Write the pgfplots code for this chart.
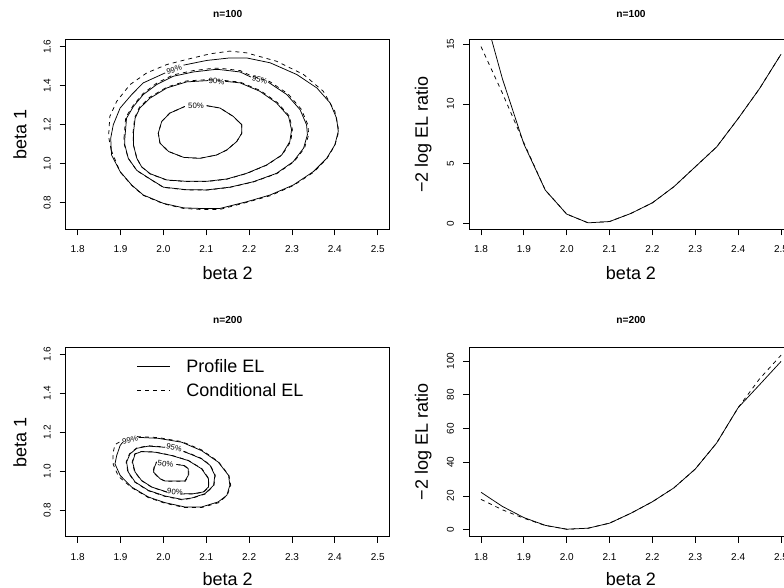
\documentclass[border=0pt]{standalone}
\usepackage{fontspec}
\setmainfont{Liberation Sans}
\usepackage{pgfplots}
\pgfplotsset{compat=1.18}
\tikzset{clab/.style={font=\fontsize{7.8}{8}\selectfont, inner sep=0pt}}
\pgfplotsset{
  Rax/.style={
    scale only axis, width=324pt, height=189.5pt, anchor=south west,
    axis line style={line width=0.75pt, black},
    every tick/.style={line width=0.75pt, black},
    tick align=outside, major tick length=6pt,
    xtick pos=bottom, ytick pos=left,
    xmin=1.772, xmax=2.528,
    xtick={1.8,1.9,2.0,2.1,2.2,2.3,2.4,2.5},
    xticklabels={1.8,1.9,2.0,2.1,2.2,2.3,2.4,2.5},
    /pgf/number format/assume math mode=true,
    tick label style={font=\fontsize{10}{11}\selectfont, inner sep=0pt},
    xticklabel style={anchor=north, yshift=-10.3pt},
    yticklabel style={xshift=-8.8pt, rotate=90, anchor=south},
    label style={font=\fontsize{18}{21}\selectfont, inner sep=0pt},
    every axis title shift=0pt,
    title style={font=\fontsize{10.2}{11}\selectfont\bfseries, anchor=center, inner sep=0pt},
    ylabel style={at={(axis description cs:-0.141,0.5)}, anchor=center},
    clip=true,
  },
  toprow/.style={
    xlabel style={at={(axis description cs:0.5,-0.2322)}, anchor=center},
    title style={at={(axis description cs:0.5,1.1346)}},
  },
  botrow/.style={
    xlabel style={at={(axis description cs:0.5,-0.2216)}, anchor=center},
    title style={at={(axis description cs:0.5,1.1425)}},
  },
  contourax/.style={ymin=0.664, ymax=1.636, ytick={0.8,1.0,1.2,1.4,1.6},
    yticklabels={0.8,1.0,1.2,1.4,1.6}, xlabel={beta 2}, ylabel={beta 1}},
  sol/.style={black, line width=0.75pt, no markers},
  das/.style={black, line width=0.75pt, no markers, dash pattern=on 4pt off 4pt},
}
\begin{document}
\begin{tikzpicture}
\path[use as bounding box] (0pt,0pt) rectangle (784pt,588pt);

% ---------------- top left: contours n=100
\begin{axis}[Rax, toprow, contourax, at={(65.7pt,358.7pt)}, title={n=100}]
\addplot[sol] coordinates {(2.047,1.506) (2.101,1.530) (2.155,1.543) (2.194,1.543) (2.249,1.518) (2.311,1.458) (2.358,1.389) (2.389,1.312) (2.404,1.234) (2.408,1.166) (2.400,1.097) (2.381,1.028) (2.350,0.960) (2.303,0.891) (2.249,0.840) (2.194,0.805) (2.132,0.771) (2.085,0.771) (2.047,0.774) (2.000,0.797) (1.953,0.840) (1.926,0.891) (1.899,0.960) (1.879,1.045) (1.877,1.131) (1.883,1.200) (1.899,1.286) (1.926,1.355) (1.953,1.415) (2.004,1.466)};
\addplot[sol] coordinates {(2.245,1.418) (2.288,1.355) (2.319,1.277) (2.334,1.200) (2.336,1.149) (2.327,1.080) (2.303,1.011) (2.264,0.951) (2.210,0.908) (2.155,0.880) (2.101,0.866) (2.054,0.867) (2.000,0.880) (1.969,0.922) (1.938,0.966) (1.918,1.028) (1.910,1.097) (1.910,1.131) (1.914,1.234) (1.930,1.294) (1.953,1.355) (1.984,1.406) (2.023,1.449) (2.070,1.471) (2.117,1.483) (2.132,1.483) (2.179,1.471) (2.204,1.445)};
\addplot[sol] coordinates {(2.144,1.423) (2.179,1.415) (2.225,1.372) (2.264,1.312) (2.292,1.243) (2.299,1.174) (2.295,1.114) (2.276,1.045) (2.241,0.994) (2.194,0.951) (2.148,0.922) (2.101,0.910) (2.054,0.910) (2.008,0.917) (1.969,0.949) (1.949,0.985) (1.938,1.028) (1.930,1.097) (1.930,1.157) (1.934,1.234) (1.945,1.286) (1.969,1.337) (2.008,1.389) (2.054,1.420) (2.105,1.427)};
\addplot[sol] coordinates {(2.101,1.298) (2.132,1.286) (2.163,1.243) (2.183,1.200) (2.183,1.157) (2.171,1.114) (2.148,1.071) (2.124,1.045) (2.085,1.028) (2.047,1.033) (2.012,1.063) (1.992,1.106) (1.988,1.157) (1.996,1.217) (2.015,1.260) (2.050,1.294)};
\addplot[das] coordinates {(1.878,1.071) (1.872,1.140) (1.875,1.243) (1.891,1.320) (1.922,1.406) (1.961,1.466) (2.008,1.509) (2.054,1.535) (2.109,1.564) (2.155,1.578) (2.194,1.569) (2.264,1.526) (2.327,1.458) (2.373,1.372) (2.400,1.269) (2.408,1.183) (2.408,1.157) (2.400,1.094) (2.381,1.025) (2.350,0.956) (2.303,0.888) (2.249,0.836) (2.194,0.802) (2.132,0.766) (2.085,0.766) (2.047,0.771) (2.000,0.795) (1.953,0.838) (1.926,0.889) (1.899,0.958) (1.878,1.071)};
\addplot[das] coordinates {(1.908,1.131) (1.912,1.238) (1.930,1.301) (1.953,1.361) (1.984,1.413) (2.023,1.456) (2.070,1.478) (2.117,1.490) (2.132,1.490) (2.179,1.478) (2.204,1.452) (2.248,1.422) (2.291,1.358) (2.322,1.279) (2.337,1.200) (2.339,1.149) (2.329,1.080) (2.305,1.011) (2.265,0.950) (2.210,0.907) (2.155,0.879) (2.101,0.865) (2.054,0.866) (2.000,0.879) (1.969,0.921) (1.938,0.965) (1.918,1.028) (1.909,1.097) (1.908,1.131)};
\addplot[das] coordinates {(1.929,1.157) (1.933,1.236) (1.944,1.290) (1.968,1.341) (2.008,1.393) (2.054,1.425) (2.105,1.432) (2.144,1.427) (2.179,1.419) (2.226,1.376) (2.266,1.314) (2.294,1.244) (2.301,1.174) (2.297,1.114) (2.277,1.045) (2.241,0.993) (2.194,0.950) (2.148,0.921) (2.101,0.909) (2.054,0.909) (2.008,0.916) (1.969,0.948) (1.949,0.984) (1.938,1.028) (1.930,1.097) (1.929,1.157)};
\addplot[das] coordinates {(2.101,1.298) (2.132,1.286) (2.163,1.243) (2.183,1.200) (2.183,1.157) (2.171,1.114) (2.148,1.071) (2.124,1.045) (2.085,1.028) (2.047,1.033) (2.012,1.063) (1.992,1.106) (1.988,1.157) (1.996,1.217) (2.015,1.260) (2.050,1.294)};
\node[clab, rotate=15] at (axis cs:2.025,1.483) {99\%};
\node[clab, rotate=-15] at (axis cs:2.225,1.432) {95\%};
\node[clab, rotate=-3] at (axis cs:2.124,1.423) {90\%};
\node[clab] at (axis cs:2.076,1.298) {50\%};
\end{axis}

% ---------------- top right: profile n=100
\begin{axis}[Rax, toprow, at={(469pt,358.7pt)}, title={n=100},
  ymin=-0.49, ymax=15.37, ytick={0,5,10,15}, yticklabels={0,5,10,15},
  xlabel={beta 2}, ylabel={−2 log EL ratio}]
\addplot[sol] coordinates {(1.80,18.6) (1.85,12.1) (1.90,6.65) (1.95,2.79) (2.00,0.78) (2.05,0.05) (2.10,0.16) (2.15,0.84) (2.20,1.73) (2.25,3.07) (2.30,4.74) (2.35,6.41) (2.40,8.78) (2.45,11.29) (2.50,14.16)};
\addplot[das] coordinates {(1.80,14.8) (1.85,10.9) (1.90,6.75) (1.95,2.79) (2.00,0.78) (2.05,0.05) (2.10,0.16) (2.15,0.84) (2.20,1.73) (2.25,3.07) (2.30,4.74) (2.35,6.41) (2.40,8.78) (2.45,11.29) (2.50,14.16)};
\end{axis}

% ---------------- bottom left: contours n=200
\begin{axis}[Rax, botrow, contourax, at={(65.7pt,51.2pt)}, title={n=200},
  legend cell align=left,
  legend image code/.code={\draw[#1] (0pt,0pt) -- (33pt,0pt);},
  legend style={draw=none, fill=none, inner sep=0pt, outer sep=0pt,
    at={(axis description cs:0.219,0.9375)}, anchor=north west,
    row sep=9.5pt, column sep=16pt,
    font=\fontsize{18}{21}\selectfont, nodes={inner sep=0pt}}]
\addplot[sol] coordinates {(1.942,1.174) (1.988,1.169) (2.043,1.149) (2.089,1.106) (2.128,1.047) (2.152,0.979) (2.155,0.928) (2.148,0.877) (2.128,0.843) (2.089,0.817) (2.050,0.817) (2.004,0.839) (1.965,0.868) (1.926,0.919) (1.899,0.979) (1.887,1.038) (1.891,1.081) (1.899,1.132) (1.905,1.149)};
\addlegendentry{Profile EL}
\addplot[das] coordinates {(1.938,1.178) (1.988,1.173) (2.043,1.152) (2.089,1.110) (2.128,1.050) (2.153,0.979) (2.157,0.928) (2.149,0.877) (2.129,0.839) (2.089,0.814) (2.050,0.814) (2.004,0.836) (1.965,0.865) (1.926,0.916) (1.895,0.974) (1.883,1.035) (1.882,1.089) (1.887,1.137) (1.903,1.157)};
\addlegendentry{Conditional EL}
\addplot[sol, forget plot] coordinates {(2.047,1.101) (2.062,1.089) (2.089,1.064) (2.109,1.030) (2.120,0.979) (2.117,0.928) (2.097,0.885) (2.066,0.863) (2.043,0.856) (2.004,0.873) (1.965,0.902) (1.934,0.945) (1.918,0.996) (1.914,1.047) (1.922,1.089) (1.938,1.118) (1.965,1.129) (2.004,1.123)};
\addplot[sol, forget plot] coordinates {(2.048,0.885) (2.070,0.885) (2.093,0.894) (2.105,0.919) (2.105,0.962) (2.089,1.013) (2.058,1.055) (2.019,1.081) (1.980,1.098) (1.949,1.101) (1.934,1.089) (1.928,1.047) (1.934,0.996) (1.949,0.953) (1.973,0.919) (2.008,0.894)};
\addplot[sol, forget plot] coordinates {(2.035,1.033) (2.047,1.030) (2.058,1.013) (2.058,0.979) (2.050,0.950) (2.004,0.950) (1.992,0.962) (1.977,0.996) (1.979,1.021) (1.984,1.047)};
\addplot[das, forget plot] coordinates {(2.047,1.103) (2.062,1.091) (2.090,1.065) (2.110,1.030) (2.121,0.979) (2.118,0.928) (2.098,0.884) (2.066,0.861) (2.043,0.854) (2.004,0.871) (1.965,0.900) (1.933,0.945) (1.917,0.996) (1.913,1.047) (1.921,1.090) (1.938,1.120) (1.965,1.131) (2.004,1.125)};
\addplot[das, forget plot] coordinates {(2.040,0.883) (2.070,0.884) (2.094,0.893) (2.106,0.919) (2.106,0.962) (2.090,1.013) (2.058,1.056) (2.019,1.082) (1.980,1.099) (1.949,1.102) (1.933,1.089) (1.927,1.047) (1.933,0.996) (1.949,0.952) (1.973,0.918) (2.008,0.893)};
\addplot[das, forget plot] coordinates {(2.030,1.035) (2.048,1.031) (2.059,1.013) (2.059,0.979) (2.051,0.949) (2.004,0.949) (1.991,0.962) (1.976,0.996) (1.978,1.021) (1.984,1.049)};
\node[clab, rotate=15] at (axis cs:1.922,1.161) {99\%};
\node[clab, rotate=-13] at (axis cs:2.025,1.120) {95\%};
\node[clab, rotate=-5] at (axis cs:2.027,0.894) {90\%};
\node[clab, rotate=-7] at (axis cs:2.005,1.038) {50\%};
\end{axis}

% ---------------- bottom right: profile n=200
\begin{axis}[Rax, botrow, at={(469pt,51.2pt)}, title={n=200},
  ymin=-4.2, ymax=108.2, ytick={0,20,40,60,80,100}, yticklabels={0,20,40,60,80,100},
  xlabel={beta 2}, ylabel={−2 log EL ratio}]
\addplot[sol] coordinates {(1.80,22.2) (1.85,13.8) (1.90,7.2) (1.95,2.6) (2.00,0.3) (2.05,0.9) (2.10,3.9) (2.15,9.8) (2.20,16.6) (2.25,24.8) (2.30,36.0) (2.35,51.5) (2.40,72.4) (2.45,86.0) (2.50,99.8)};
\addplot[das] coordinates {(1.80,18.0) (1.85,11.8) (1.90,6.8) (1.95,2.5) (2.00,0.3) (2.05,0.9) (2.10,3.9) (2.15,9.8) (2.20,16.6) (2.25,24.8) (2.30,36.0) (2.35,51.5) (2.40,72.4) (2.45,89.5) (2.50,103.5)};
\end{axis}
\end{tikzpicture}
\end{document}
